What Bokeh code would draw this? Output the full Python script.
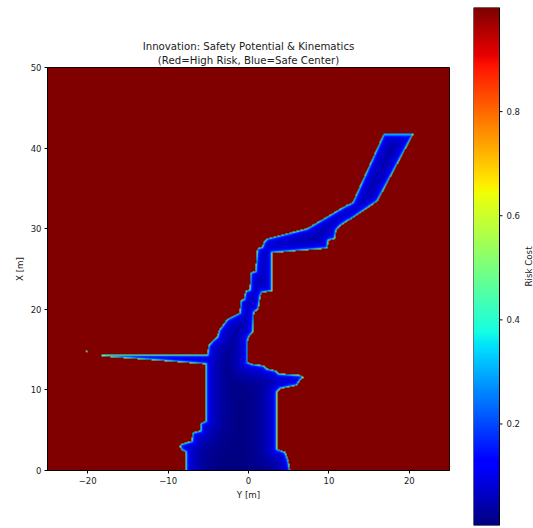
import numpy as np
from bokeh.plotting import figure
from bokeh.models import LinearColorMapper, Range1d, Title
from bokeh.layouts import row, column
from bokeh.core.properties import value
from bokeh.embed import file_html
from bokeh.resources import INLINE

# ---------------- data ----------------
# free-space corridor outline: lateral Y [m] (horizontal) and longitudinal X [m] (vertical)
free_lat = [-7.85, -7.85, -8.3, -8.6, -8.45, -7.1, -7.0, -6.0, -6.0, -5.35,
            -5.35, -10.9, -18.3, -18.3, -5.15, -5.0, -4.5, -3.9, -3.7, -2.65,
            -1.1, -1.0, -0.58, -0.37, 0.16, 0.25, 0.87, 1.08, 1.7, 1.9,
            2.33, 7.3, 12.9, 16.75, 20.5, 16.0, 11.44, 11.0, 10.8, 10.0,
            9.86, 2.95, 2.95, 1.7, 1.5, 1.28, 0.7, 0.58, 0.1, -0.08,
            -0.08, 0.46, 1.9, 2.3, 3.36, 3.77, 6.5, 6.9, 6.5, 6.05,
            4.0, 3.57, 3.57, 4.6, 5.0, 5.2]
free_lon = [0.0, 2.3, 2.5, 3.0, 3.3, 3.7, 4.75, 5.0, 5.9, 6.2,
            13.15, 13.6, 14.15, 14.35, 14.35, 15.5, 16.1, 16.6, 17.4, 18.8,
            19.6, 21.1, 21.3, 22.3, 22.5, 24.6, 24.8, 27.5, 27.7, 28.3,
            28.75, 30.0, 33.3, 41.8, 41.8, 33.4, 30.3, 29.8, 28.7, 28.5,
            27.5, 26.95, 22.3, 22.1, 21.7, 20.1, 19.6, 17.2, 16.6, 16.1,
            13.4, 13.2, 13.0, 12.6, 12.4, 12.0, 11.8, 11.5, 11.2, 10.5,
            10.1, 9.7, 2.7, 2.3, 1.24, 0.0]
# isolated free cell
dot_lat = [-20.1]
dot_lon = [14.8]
dot_risk = 0.45

risk_min = 0.005
risk_max = 1.0
inner_risk = 0.12       # smooth part of risk just inside the border
decay_len = 1.5         # metres
rim_risk = 0.45         # sharp rim right at the border
rim_len = 0.12          # metres

lat_range = [-25, 25]
lon_range = [0, 50]
x_ticks = [-20, -10, 0, 10, 20]
y_ticks = [0, 10, 20, 30, 40, 50]
cbar_ticks = [0.2, 0.4, 0.6, 0.8]
cbar_tick_labels = ["0.2", "0.4", "0.6", "0.8"]

title_1 = "Innovation: Safety Potential & Kinematics"
title_2 = "(Red=High Risk, Blue=Safe Center)"
cbar_label = "Risk Cost"

# ---------------- risk grid ----------------
res = 0.125
nx = int(round((lat_range[1] - lat_range[0]) / res))
ny = int(round((lon_range[1] - lon_range[0]) / res))
cx = lat_range[0] + (np.arange(nx) + 0.5) * res
cy = lon_range[0] + (np.arange(ny) + 0.5) * res
GX, GY = np.meshgrid(cx, cy)
px = GX.ravel()
py = GY.ravel()

inside = np.zeros(px.size, dtype=bool)
dist = np.full(px.size, np.inf)
nv = len(free_lat)
with np.errstate(divide="ignore", invalid="ignore"):
    for i in range(nv):
        x1, y1 = free_lat[i], free_lon[i]
        x2, y2 = free_lat[(i + 1) % nv], free_lon[(i + 1) % nv]
        cond = (y1 > py) != (y2 > py)
        xint = x1 + (py - y1) * (x2 - x1) / (y2 - y1)
        inside ^= cond & (px < xint)
        if y1 == lon_range[0] and y2 == lon_range[0]:
            continue  # map border, not an obstacle
        dx, dy = x2 - x1, y2 - y1
        t = np.clip(((px - x1) * dx + (py - y1) * dy) / (dx * dx + dy * dy), 0, 1)
        d = np.hypot(px - (x1 + t * dx), py - (y1 + t * dy))
        dist = np.minimum(dist, d)

inner = (inner_risk * np.exp(-dist / decay_len)
         + rim_risk * np.exp(-dist / rim_len) + risk_min)
val = np.where(inside, np.minimum(inner, risk_max), risk_max)
for dl, dn in zip(dot_lat, dot_lon):
    dd = np.hypot(px - dl, py - dn)
    val = np.where(dd < 0.14, dot_risk, val)
field = val.reshape(ny, nx)

# ---------------- jet palette ----------------
def jet(v):
    r = np.interp(v, [0, 0.35, 0.66, 0.89, 1], [0, 0, 1, 1, 0.5])
    g = np.interp(v, [0, 0.125, 0.375, 0.64, 0.91, 1], [0, 0, 1, 1, 0, 0])
    b = np.interp(v, [0, 0.11, 0.34, 0.65, 1], [0.5, 1, 1, 0, 0])
    return r, g, b

pal = []
for v in np.linspace(0, 1, 256):
    r, g, b = jet(v)
    pal.append("#%02x%02x%02x" % (int(round(r * 255)), int(round(g * 255)), int(round(b * 255))))

mapper = LinearColorMapper(palette=pal, low=risk_min, high=risk_max)

FONT = "DejaVu Sans"
TXT = "#1a1a1a"

# ---------------- main figure ----------------
p = figure(width=473, height=526,
           x_range=Range1d(*lat_range), y_range=Range1d(*lon_range),
           output_backend="svg", toolbar_location=None,
           min_border_left=47, min_border_right=24, min_border_top=67, min_border_bottom=56,
           title=title_1)
p.image(image=[field], x=lat_range[0], y=lon_range[0],
        dw=lat_range[1] - lat_range[0], dh=lon_range[1] - lon_range[0],
        color_mapper=mapper)

p.title.align = "center"
p.title.text_font = FONT
p.title.text_font_size = "10.2px"
p.title.text_font_style = "normal"
p.title.text_color = TXT
p.title.standoff = 0
p.add_layout(Title(text=title_2, align="center", text_font=FONT, text_font_size="10.2px",
                   text_font_style="normal", text_color=TXT, standoff=3), "above")

p.grid.visible = False
p.outline_line_color = "black"
p.outline_line_width = 1
p.background_fill_color = "white"

p.xaxis.ticker = x_ticks
p.yaxis.ticker = y_ticks
p.xaxis.major_label_overrides = {t: str(t).replace("-", "\u2212") for t in x_ticks}
p.xaxis.axis_label = "Y [m]"
p.yaxis.axis_label = "X [m]"
for ax in [p.xaxis[0], p.yaxis[0]]:
    ax.axis_line_color = "black"
    ax.major_tick_line_color = "black"
    ax.major_tick_out = 3
    ax.major_tick_in = 0
    ax.minor_tick_line_color = None
    ax.major_label_text_font = FONT
    ax.major_label_text_font_size = "8.5px"
    ax.major_label_text_color = TXT
    ax.major_label_standoff = 3
    ax.axis_label_text_font = FONT
    ax.axis_label_text_font_size = "8.7px"
    ax.axis_label_text_font_style = "normal"
    ax.axis_label_text_color = TXT
    ax.axis_label_standoff = 3

# ---------------- colour bar figure (bar + hand-drawn axis inside one frame) ----------------
CB_W = 60          # figure width in px
BAR_W = 26         # bar width in px
x_max = CB_W / BAR_W
cb = figure(width=CB_W, height=526,
            x_range=Range1d(0, x_max), y_range=Range1d(risk_min, risk_max),
            output_backend="svg", toolbar_location=None,
            x_axis_location=None, y_axis_location=None,
            min_border_left=0, min_border_right=0, min_border_top=7, min_border_bottom=1)
cb.outline_line_color = None
cb.grid.visible = False
grad = np.linspace(risk_min, risk_max, 256).reshape(-1, 1)
cb.image(image=[grad], x=0, y=risk_min, dw=1, dh=risk_max - risk_min, color_mapper=mapper)
cb.quad(left=[0], right=[1], bottom=[risk_min], top=[risk_max],
        fill_color=None, line_color="black", line_width=1)
tick_len = 3 / BAR_W
n_t = len(cbar_ticks)
cb.segment(x0=[1] * n_t, x1=[1 + tick_len] * n_t,
           y0=cbar_ticks, y1=cbar_ticks, line_color="black", line_width=1)
cb.text(x=[1 + 7 / BAR_W] * n_t, y=cbar_ticks, text=cbar_tick_labels,
        text_font=value(FONT), text_font_size="8.5px", text_color=TXT,
        text_align="left", text_baseline="middle")
cb.text(x=[1 + 29 / BAR_W], y=[(risk_min + risk_max) / 2], text=[cbar_label],
        angle=np.pi / 2, text_font=value(FONT), text_font_size="8.7px", text_color=TXT,
        text_align="center", text_baseline="middle")

layout = row(p, column(cb))
open("out.html", "w").write(file_html(layout, INLINE))
